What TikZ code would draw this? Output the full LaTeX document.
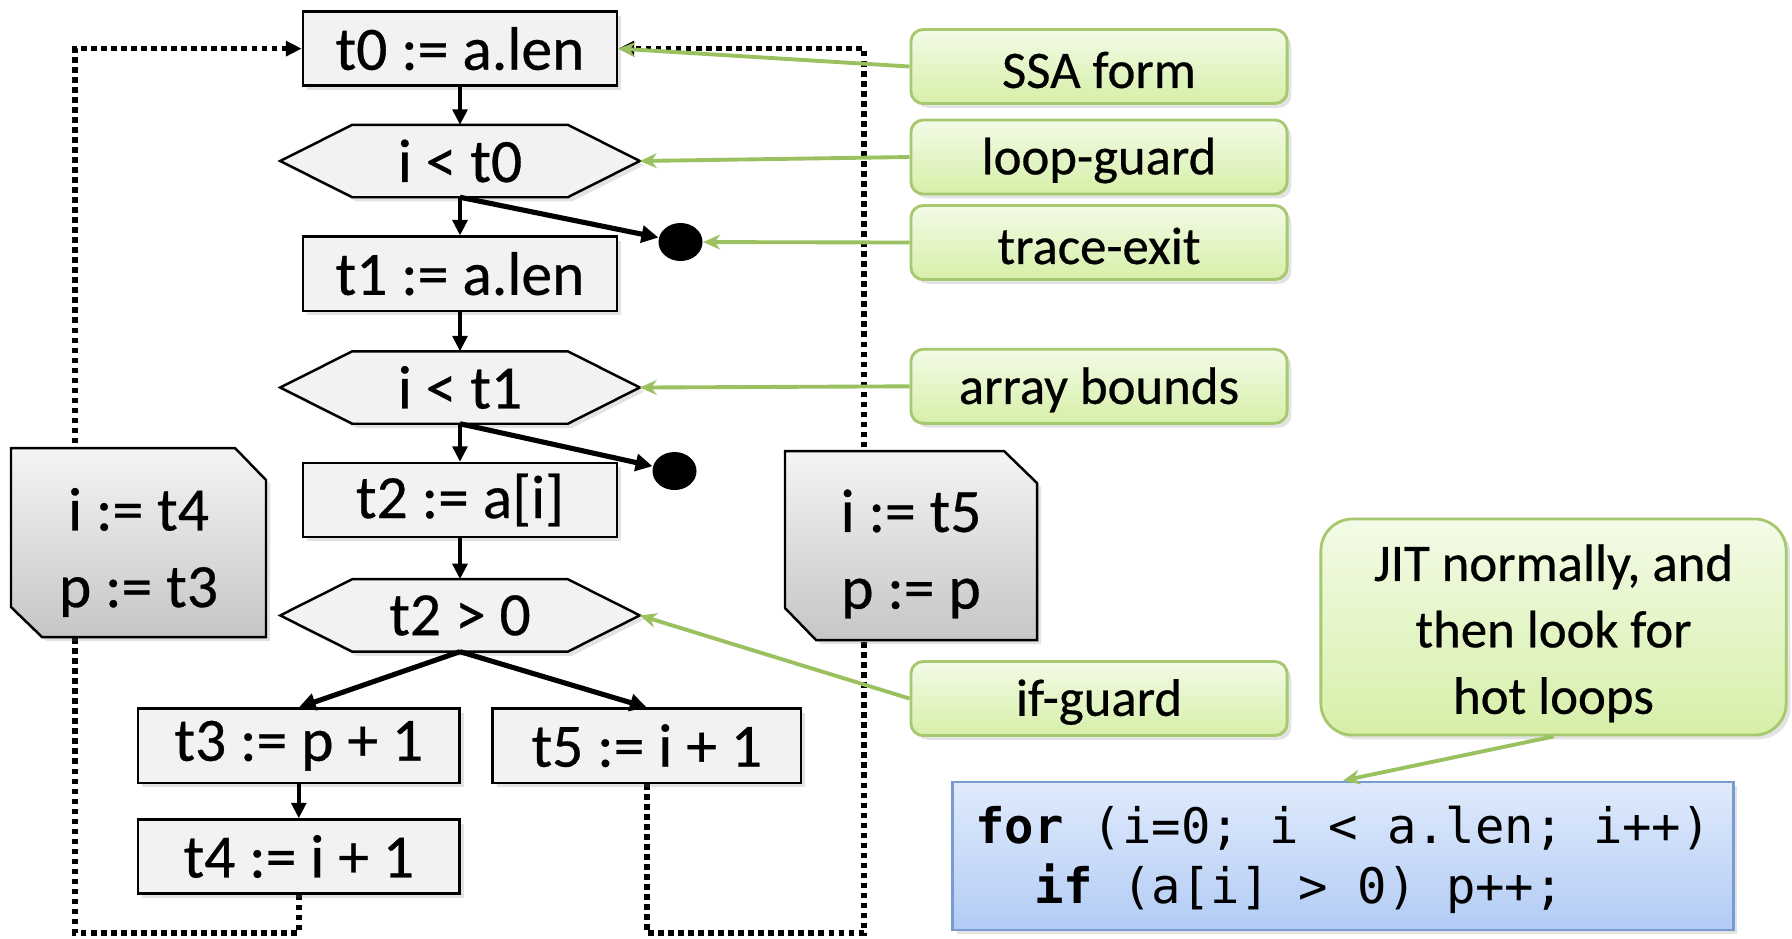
\documentclass[tikz,border=0pt]{standalone}
\usepackage{fontspec}
\setmainfont{Carlito}[FakeBold=0.5]
\newfontfamily\codefont{DejaVu Sans Mono}
\usetikzlibrary{arrows.meta,shadows,shapes.geometric}
\pgfdeclarelayer{back}
\pgfsetlayers{back,main}
\newcommand\dnshift[2]{\raisebox{-#1}[\height][\depth]{#2}}
\definecolor{boxgray}{RGB}{242,242,242}
\definecolor{grn}{RGB}{155,192,95}
\definecolor{grnborder}{RGB}{166,200,110}
\definecolor{grntop}{RGB}{243,251,231}
\definecolor{grnbot}{RGB}{214,239,168}
\definecolor{bluetop}{RGB}{224,235,252}
\definecolor{bluebot}{RGB}{178,203,245}
\definecolor{blueborder}{RGB}{120,155,210}
\definecolor{greytop}{RGB}{244,244,244}
\definecolor{greybot}{RGB}{198,198,198}
\begin{document}
\begin{tikzpicture}[x=0.01cm,y=-0.01cm,
  mainfont/.style={font=\fontsize{17.5pt}{21.8pt}\selectfont},
  shd/.style={drop shadow={shadow xshift=1.2pt,shadow yshift=-1.2pt,opacity=0.22}},
  stmt/.style={draw, line width=0.7pt, fill=boxgray, inner sep=0pt, minimum height=0.74cm, mainfont, shd},
  hexn/.style={inner sep=0pt, minimum width=3.58cm, minimum height=0.71cm, mainfont},
  hexshape/.style={draw, line width=0.7pt, fill=boxgray, shd},
  exitdot/.style={ellipse, fill=black, inner sep=0pt, minimum width=0.44cm, minimum height=0.38cm},
  flow/.style={line width=1.05pt, -{Triangle[length=4.4pt,width=4.2pt]}},
  flowthick/.style={line width=1.45pt, -{Triangle[length=4.8pt,width=4.8pt]}},
  loopline/.style={line width=1.6pt, dash pattern=on 1.6pt off 1.25pt, -{Triangle[length=4.5pt,width=4.2pt]}},
  note/.style={draw=grnborder, line width=0.8pt, top color=grntop, bottom color=grnbot, rounded corners=3.5pt, minimum width=3.76cm, minimum height=0.74cm, inner sep=0pt, font=\fontsize{15pt}{18.5pt}\selectfont, shd},
  pointer/.style={draw=grn, line width=1.1pt, -{Stealth[length=4.8pt,width=4.2pt]}},
  greyblock/.style={draw, line width=0.7pt, top color=greytop, bottom color=greybot, shd},
]
\useasboundingbox (0,0) rectangle (1792,938);
\begin{pgfonlayer}{back}
\fill[white] (0,0) rectangle (1792,938);
\end{pgfonlayer}

% statement boxes
\node[stmt, minimum width=3.14cm] (t0) at (460,48.6) {t0 := a.len};
\node[stmt, minimum width=3.14cm] (t1) at (460,273.7) {t1 := a.len};
\node[stmt, minimum width=3.14cm] (t2) at (460,500) {t2 := a[i]};
\node[stmt, minimum width=3.21cm] (t3) at (298.8,745.7) {t3 := p + 1};
\node[stmt, minimum width=3.085cm] (t5) at (646.8,745.7) {t5 := i + 1};
\node[stmt, minimum width=3.21cm] (t4) at (298.8,856.5) {t4 := i + 1};

% guards (hexagons)
\node[hexn] (h0) at (460,161) {i < t0};
\node[hexn] (h1) at (460,387.5) {i < t1};
\node[hexn] (h2) at (460,615.4) {t2 > 0};
\begin{pgfonlayer}{back}
\foreach \h in {h0,h1,h2}{
  \draw[hexshape] (\h.west) -- ([xshift=0.72cm]\h.north west) -- ([xshift=-0.72cm]\h.north east)
    -- (\h.east) -- ([xshift=-0.72cm]\h.south east) -- ([xshift=0.72cm]\h.south west) -- cycle;
}
\end{pgfonlayer}

% trace exits
\node[exitdot] (d0) at (680.5,242) {};
\node[exitdot] (d1) at (674.5,471) {};

% loop-back dotted edges
\coordinate (lc) at (75,933);
\coordinate (rc) at (864,933);
\begin{pgfonlayer}{back}
\draw[loopline] (t4.south) |- (lc) |- (t0.west);
\draw[loopline] (t5.south) |- (rc) |- (t0.east);
\end{pgfonlayer}

% grey blocks
\draw[greyblock] (11,448) -- (235,448) -- (266,480) -- (266,637) -- (42,637) -- (11,607) -- cycle;
\node[mainfont, align=center] (lb) at (138.5,552.5) {i := t4\\p := t3};
\draw[greyblock] (785,451) -- (1004,451) -- (1037,483) -- (1037,640) -- (816,640) -- (785,608) -- cycle;
\node[mainfont, align=center] (rb) at (911,554) {i := t5\\p := p};

% flow arrows
\draw[flow] (t0.south) -- (h0.north);
\draw[flow] (h0.south) -- (t1.north);
\draw[flow] (t1.south) -- (h1.north);
\draw[flow] (h1.south) -- (t2.north);
\draw[flow] (t2.south) -- (h2.north);
\draw[flow] (t3.south) -- (t4.north);
\draw[flowthick] (h0.south) -- (d0);
\draw[flowthick] (h1.south) -- (d1);
\draw[flowthick] (h2.south) -- (t3.north);
\draw[flowthick] (h2.south) -- (t5.north);

% callouts
\node[note] (ssa) at (1099,66.5) {\dnshift{1pt}{SSA form}};
\node[note] (lg) at (1099,157) {\dnshift{1pt}{loop-guard}};
\node[note] (te) at (1099,242.5) {\dnshift{1pt}{trace-exit}};
\node[note] (ab) at (1099,386.3) {\dnshift{1pt}{array bounds}};
\node[note] (ig) at (1099,698.5) {\dnshift{1pt}{if-guard}};
\node[note, minimum width=4.65cm, minimum height=2.16cm, rounded corners=9pt, font=\fontsize{15pt}{18.9pt}\selectfont] (jit) at (1553.5,627) {\dnshift{2pt}{\begin{tabular}{@{}c@{}}JIT normally, and\\then look for\\hot loops\end{tabular}}};

% code
\node[draw=blueborder, line width=0.8pt, top color=bluetop, bottom color=bluebot, minimum width=7.8cm, minimum height=1.48cm, inner sep=0pt, align=left, font=\codefont\fontsize{13.9pt}{17.3pt}\selectfont, shd] (code) at (1343,856) {\dnshift{1.5pt}{\begin{tabular}{@{}l@{}}\textbf{for} (i=0; i < a.len; i++)\\\phantom{xx}\textbf{if} (a[i] > 0) p++;\end{tabular}}};

% pointers
\draw[pointer] (ssa.west) -- (t0.east);
\draw[pointer] (lg.west) -- (h0.east);
\draw[pointer] (te.west) -- (d0);
\draw[pointer] (ab.west) -- (h1.east);
\draw[pointer] (ig.west) -- (h2.east);
\draw[pointer] (jit.south) -- (code.north);
\end{tikzpicture}
\end{document}
